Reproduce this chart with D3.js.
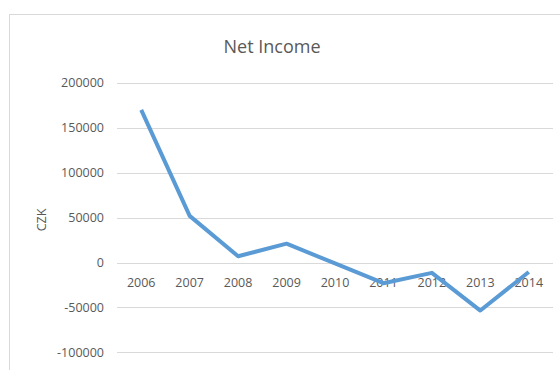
<!DOCTYPE html>
<html>
<head>
<meta charset="utf-8">
<script src="https://cdn.jsdelivr.net/npm/d3@7"></script>
<style>
  body { margin: 0; background: #fff; }
  text { font-family: "Open Sans", sans-serif; fill: #595959; }
</style>
</head>
<body>
<div id="chart"></div>
<script>
// data
const years = ["2006", "2007", "2008", "2009", "2010", "2011", "2012", "2013", "2014"];
const netIncome = [170000, 52000, 7000, 21000, -1000, -23000, -11500, -53500, -10500];
const yTicks = [-100000, -50000, 0, 50000, 100000, 150000, 200000];

const w = 560, h = 370;
const plot = {left: 117, right: 553, top: 83, bottom: 352.3};

const svg = d3.select("#chart").append("svg")
  .attr("width", w)
  .attr("height", h);

// chart frame (cut off at right and bottom)
svg.append("rect")
  .attr("x", 9.5).attr("y", 14.5)
  .attr("width", 600).attr("height", 400)
  .attr("fill", "none")
  .attr("stroke", "#d9d9d9");

const x = d3.scaleBand()
  .domain(years)
  .range([plot.left, plot.right]);

const y = d3.scaleLinear()
  .domain([-100000, 200000])
  .range([plot.bottom, plot.top]);

// gridlines
svg.append("g")
  .selectAll("line")
  .data(yTicks)
  .enter()
  .append("line")
    .attr("x1", plot.left)
    .attr("x2", plot.right)
    .attr("y1", d => Math.round(y(d)) + 0.5)
    .attr("y2", d => Math.round(y(d)) + 0.5)
    .attr("stroke", "#d9d9d9")
    .attr("stroke-width", 1);

// y tick labels
svg.append("g")
  .selectAll("text")
  .data(yTicks)
  .enter()
  .append("text")
    .attr("x", 104)
    .attr("y", d => y(d))
    .attr("dy", "0.35em")
    .attr("text-anchor", "end")
    .style("font-size", "12.5px")
    .text(d => d);

// category labels sit just under the zero line
svg.append("g")
  .selectAll("text")
  .data(years)
  .enter()
  .append("text")
    .attr("x", d => x(d) + x.bandwidth() / 2)
    .attr("y", y(0) + 20)
    .attr("dy", "0.35em")
    .attr("text-anchor", "middle")
    .style("font-size", "12.5px")
    .text(d => d);

// axis title
svg.append("text")
  .attr("transform", "translate(42," + 220 + ") rotate(-90)")
  .attr("text-anchor", "middle")
  .attr("dy", "0.35em")
  .style("font-size", "12.5px")
  .text("CZK");

// chart title
svg.append("text")
  .attr("x", 272)
  .attr("y", 53)
  .attr("text-anchor", "middle")
  .style("font-size", "18px")
  .text("Net Income");

// the line
const line = d3.line()
  .x((d, i) => x(years[i]) + x.bandwidth() / 2)
  .y(d => y(d));

svg.append("path")
  .datum(netIncome)
  .attr("d", line)
  .attr("fill", "none")
  .attr("stroke", "#5b9bd5")
  .attr("stroke-width", 4)
  .attr("stroke-linejoin", "round")
  .attr("stroke-linecap", "butt");
</script>
</body>
</html>
